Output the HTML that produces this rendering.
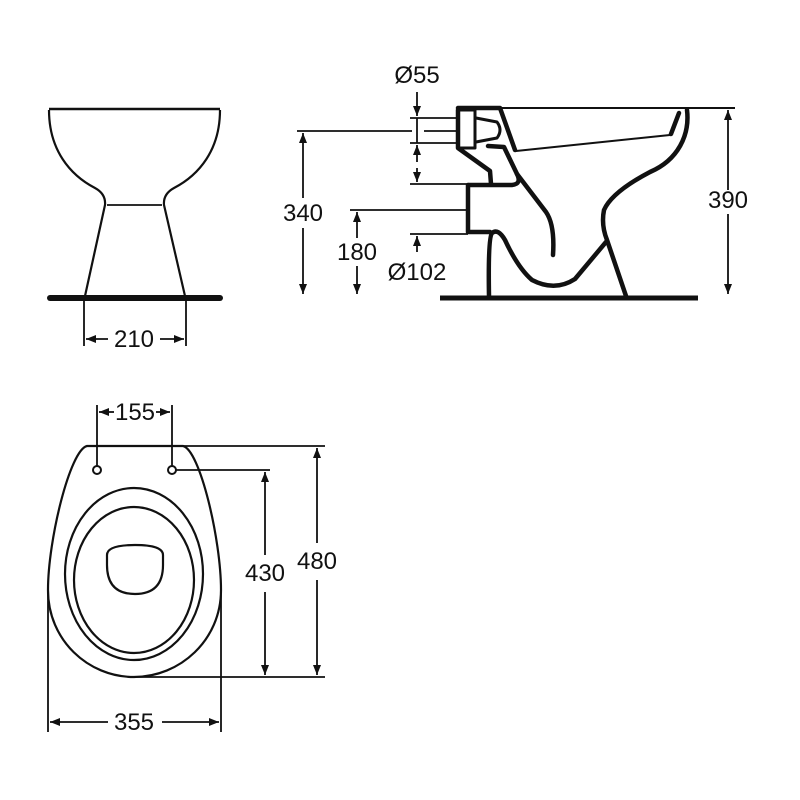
<!DOCTYPE html>
<html><head><meta charset="utf-8"><style>
html,body{margin:0;padding:0;background:#fff}
svg{display:block}
text{font-family:"Liberation Sans",Arial,sans-serif;font-size:24px;fill:#111}
</style></head><body>
<svg width="800" height="800" viewBox="0 0 800 800" xmlns="http://www.w3.org/2000/svg">
<defs>
<marker id="a" markerWidth="10" markerHeight="8" refX="10" refY="4" orient="auto" markerUnits="userSpaceOnUse">
<path d="M0,0 L10,4 L0,8 Z" fill="#111"/></marker>
</defs>
<g fill="none" stroke="#111" stroke-width="1.8">
<!-- FRONT VIEW -->
<path d="M49,109 L220,109" stroke-width="2.5"/>
<path d="M49,110 C49,150 70,175 95,188 Q106,194 105,205 L85,296" stroke-width="2.2"/>
<path d="M220,110 C220,150 199,175 174,188 Q163,194 164,205 L185,296" stroke-width="2.2"/>
<path d="M107,205 L162,205"/>
<path d="M50,298 L220,298" stroke-width="6" stroke-linecap="round"/>
<path d="M84,300 V346 M186,300 V346"/>
<path d="M108,339 H86" marker-end="url(#a)"/>
<path d="M160,339 H184" marker-end="url(#a)"/>

<!-- SIDE VIEW -->
<path d="M440,298 L698,298" stroke-width="5"/>
<path d="M456,108 L735,108" stroke-width="2"/>
<g stroke-width="4.5" stroke-linejoin="round" stroke-linecap="round">
<path d="M458,108 L500,108 L515,150"/>
<path d="M458,110 L458,148 L490,171 L491,184"/>
<path d="M458,110 H475 V148 H458" stroke-width="3"/>
<path d="M476,118 L497,122 Q503,130 497,138 L476,142" stroke-width="3"/>
<path d="M488,146 L504,147 L517,174 Q522,184 512,185 L469,185"/>
<path d="M517,174 L546,212 Q555,225 553,255"/>
<path d="M468,185 V232 L490,232"/>
<path d="M687,110 C690,135 678,160 650,172 Q612,192 604,210 Q601,225 607,240 L626,296"/>
<path d="M679,113 L671,134"/>
<path d="M606,242 L575,279 Q555,292 532,280 Q518,268 505,240 Q498,228 492,233 Q488,238 489,296"/>
</g>
<path d="M516,151 L670,135" stroke-width="2"/>
<path d="M728,190 V110" marker-end="url(#a)"/>
<path d="M728,214 V294" marker-end="url(#a)"/>
<path d="M297,131 H412 M424,131 H457"/>
<path d="M303,198 V133" marker-end="url(#a)"/>
<path d="M303,228 V294" marker-end="url(#a)"/>
<path d="M350,210 H468"/>
<path d="M357,238 V212" marker-end="url(#a)"/>
<path d="M357,266 V294" marker-end="url(#a)"/>
<path d="M410,118 H458 M410,143 H458"/>
<path d="M417,92 V116" marker-end="url(#a)"/>
<path d="M417,162 V145" marker-end="url(#a)"/>
<path d="M410,184 H468 M410,234 H468"/>
<path d="M417,168 V182" marker-end="url(#a)"/>
<path d="M417,252 V236" marker-end="url(#a)"/>
<path d="M417,118 V143"/>

<!-- TOP VIEW -->
<path d="M87,446 L183,446 C200,450 221,540 221,590 C221,640 180,677 134,677 C88,677 48,640 48,590 C48,540 70,450 87,446 Z" stroke-width="2.2"/>
<ellipse cx="134" cy="574" rx="69" ry="86" stroke-width="2.2"/>
<ellipse cx="134" cy="580" rx="60" ry="73" stroke-width="2.2"/>
<path d="M107,555 Q107,545 135,545 Q163,545 163,555 L163,565 Q163,594 135,594 Q107,594 107,565 Z" stroke-width="2.2"/>
<circle cx="97" cy="470" r="4" stroke-width="2"/>
<circle cx="172" cy="470" r="4" stroke-width="2"/>
<path d="M97,405 V466 M172,405 V466"/>
<path d="M114,412 H99" marker-end="url(#a)"/>
<path d="M156,412 H170" marker-end="url(#a)"/>
<path d="M183,446 H325 M134,677 H325"/>
<path d="M317,543 V448" marker-end="url(#a)"/>
<path d="M317,580 V675" marker-end="url(#a)"/>
<path d="M176,470 H270"/>
<path d="M265,555 V472" marker-end="url(#a)"/>
<path d="M265,592 V675" marker-end="url(#a)"/>
<path d="M48,592 V732 M221,592 V732"/>
<path d="M108,722 H50" marker-end="url(#a)"/>
<path d="M162,722 H219" marker-end="url(#a)"/>
</g>
<g text-anchor="middle">
<text x="134" y="347">210</text>
<text x="417" y="83">Ø55</text>
<text x="417" y="280">Ø102</text>
<text x="303" y="221">340</text>
<text x="357" y="260">180</text>
<text x="728" y="208">390</text>
<text x="135" y="420">155</text>
<text x="317" y="569">480</text>
<text x="265" y="581">430</text>
<text x="134" y="730">355</text>
</g>
</svg>
</body></html>
